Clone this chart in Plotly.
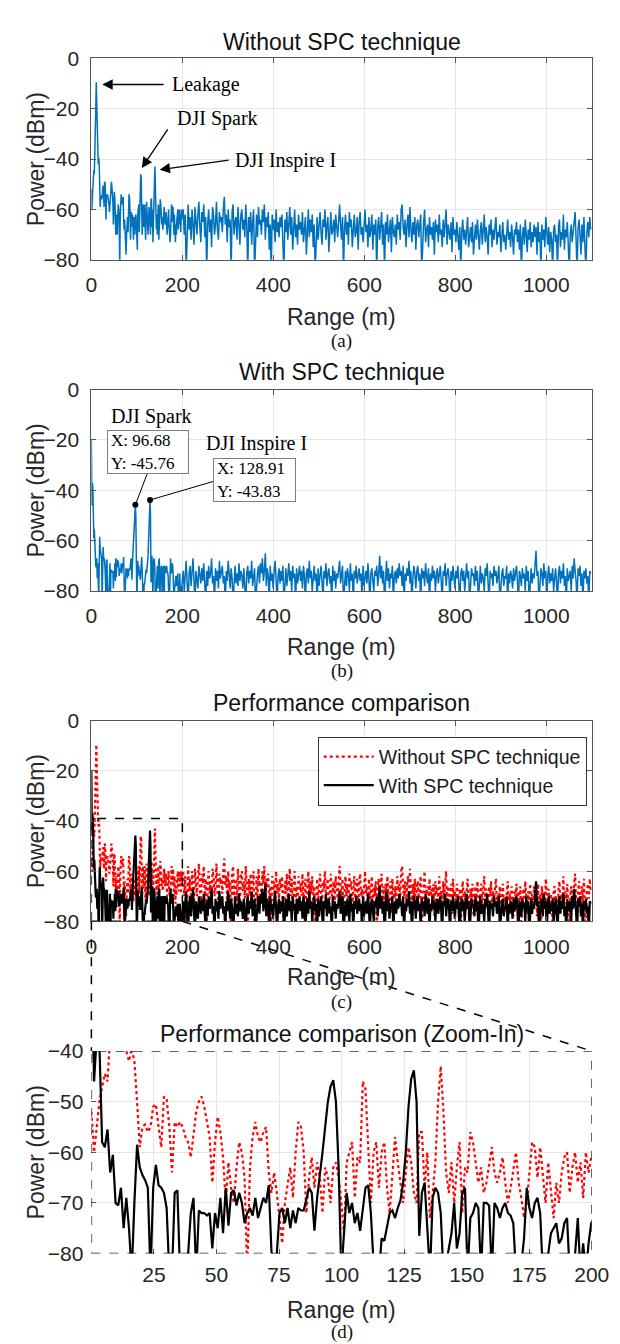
import plotly.graph_objects as go

# ---------------- data (dBm), FFT bin spacing in metres ----------------
BIN_M = 1.0742

# bins 0..186 (0 - 200 m), every bin
near_without = [
    -52, -60, -55, -50, -47, -44.5, -46, -40, -32, -20,
    -9.5, -18, -36, -40, -42, -39.5, -42, -50, -59, -55,
    -54.5, -56, -55, -51, -50.5, -55, -59, -49, -49.5, -55,
    -64, -54, -55, -54, -55, -57, -58, -61, -57, -52,
    -50, -49, -51, -54, -57, -66, -58, -53, -56, -61,
    -70, -62, -67, -70, -63, -58, -60, -65, -84, -63,
    -57, -54, -57, -58, -56, -55, -64, -68, -64, -68,
    -73, -78, -70, -66, -63, -69, -60, -54, -55, -60,
    -72, -65, -61, -67, -62, -65, -72, -63, -65, -70,
    -63, -62, -65, -70, -76, -62, -60, -58, -69, -61,
    -62, -46, -47.5, -60, -70, -60, -58, -67, -60, -58,
    -67, -72, -64, -57, -62, -66, -70, -64, -59, -62,
    -68, -70, -56, -56, -67, -60, -73, -68, -62, -50,
    -43, -52, -64, -68, -62, -70, -63, -58, -72, -63,
    -64, -56, -58, -62, -66, -63, -68, -66, -62, -59,
    -64, -66, -64, -61, -66, -70, -67, -63, -60, -66,
    -69, -73, -70, -64, -58, -59, -65, -59, -64, -70,
    -62, -67, -73, -66, -70, -64, -61, -60, -68, -63,
    -60, -66, -62, -69, -60, -64, -61,
]
near_with = [
    -20, -46, -37, -39, -58, -59, -55.5, -64, -60.5, -70,
    -70.5, -67, -75, -69, -75, -84, -70, -58.5, -63, -64.5,
    -65.5, -67, -84, -67, -62.5, -66.5, -67, -68, -71, -84,
    -84, -68, -67.5, -84, -86, -84, -80, -72, -69, -84,
    -71.5, -72, -72, -72.5, -72, -79, -72, -75, -69, -76,
    -67, -74.5, -68, -67.5, -70.5, -68, -70, -74, -72, -71,
    -72.5, -69, -73, -71, -69, -70, -66.5, -79.5, -84, -80,
    -72, -71, -74, -71, -75, -71.5, -74, -71, -71.5, -71.5,
    -69, -67, -68, -75.5, -69, -65, -60, -55, -50, -47,
    -45.76, -50, -63, -84, -76, -68, -72, -70, -74, -72,
    -75.5, -71, -67, -66.5, -72, -82, -86, -84, -77, -77.5,
    -75, -72, -71.5, -73, -71, -69.5, -66, -60, -51, -45.5,
    -43.83, -50, -76.5, -68, -66, -74, -84, -69, -67, -68,
    -72, -84, -82, -79, -76, -70, -79, -76, -68, -67,
    -84, -73, -72, -70, -71, -84, -70, -70, -70.5, -84,
    -70, -71, -73, -71, -70, -72, -72.5, -74, -84, -85,
    -82, -77, -67, -71, -73, -70, -69, -72, -84, -84,
    -80, -76, -75, -74, -78, -77, -74, -73, -84, -84,
    -80, -73, -84, -78, -84, -78, -74,
]

# bins 188, 190, ..., 1022 (200 - 1100 m), every second bin
far_without = [
    -60, -70, -62, -85, -65, -58, -68, -63, -72, -60, -66, -74, -59, -64, -70, -62, -57, -67, -73, -61,
    -65, -58, -71, -63, -85, -66, -60, -69, -64, -75, -59, -62, -70, -66, -57, -68, -72, -61, -65, -63,
    -69, -60, -55, -66, -62, -73, -60, -67, -64, -85, -61, -58, -70, -65, -63, -72, -59, -66, -74, -62,
    -60, -68, -64, -71, -58, -66, -85, -63, -69, -61, -74, -65, -60, -85, -67, -62, -71, -59, -66, -64,
    -70, -60, -65, -58, -72, -63, -67, -61, -76, -66, -85, -62, -68, -64, -73, -60, -69, -65, -71, -63,
    -67, -62, -74, -85, -64, -69, -61, -72, -66, -59, -70, -63, -76, -65, -60, -71, -66, -74, -62, -68,
    -65, -70, -61, -73, -67, -63, -78, -66, -60, -71, -64, -69, -62, -75, -66, -85, -68, -63, -72, -65,
    -61, -69, -74, -64, -67, -60, -72, -66, -63, -77, -65, -61, -70, -68, -64, -73, -62, -67, -71, -65,
    -58, -66, -72, -63, -85, -68, -62, -70, -65, -74, -61, -67, -64, -75, -66, -62, -71, -69, -63, -76,
    -65, -61, -70, -67, -73, -64, -60, -69, -66, -75, -63, -71, -68, -62, -76, -66, -70, -64, -85, -67,
    -63, -72, -68, -61, -74, -66, -85, -65, -70, -62, -73, -67, -64, -77, -63, -69, -71, -66, -74, -62,
    -68, -65, -72, -60, -58, -67, -70, -64, -75, -66, -62, -71, -59, -68, -73, -65, -70, -63, -76, -66,
    -64, -71, -67, -62, -85, -69, -65, -60, -73, -68, -66, -75, -63, -70, -67, -72, -65, -78, -64, -69,
    -66, -73, -62, -70, -68, -75, -64, -71, -67, -60, -74, -66, -69, -72, -65, -77, -63, -70, -68, -73,
    -65, -71, -76, -67, -85, -69, -64, -72, -68, -74, -66, -63, -75, -70, -67, -73, -65, -78, -69, -66,
    -72, -64, -70, -76, -68, -65, -74, -69, -62, -73, -67, -71, -78, -66, -70, -64, -75, -68, -72, -67,
    -63, -74, -69, -71, -66, -77, -68, -65, -73, -70, -76, -67, -64, -72, -69, -75, -66, -71, -78, -68,
    -70, -65, -73, -68, -76, -66, -85, -71, -67, -74, -64, -70, -77, -68, -72, -65, -75, -69, -73, -66,
    -71, -67, -78, -65, -73, -69, -85, -66, -72, -68, -75, -63, -70, -74, -67, -77, -69, -72, -85, -68,
    -66, -73, -70, -85, -67, -64, -75, -69, -72, -62, -76, -68, -71, -65, -74, -85, -70, -66, -73, -69,
    -62, -61, -72, -85, -68, -64, -70, -78, -66, -73, -63, -75, -85, -69, -65, -71, -63, -68,
]
far_with = [
    -72, -80, -75, -68, -77, -85, -73, -70, -78, -74, -67, -76, -85, -72, -75, -79, -70, -74, -77, -71,
    -76, -69, -74, -85, -72, -78, -70, -75, -73, -67, -77, -74, -85, -71, -76, -72, -79, -68, -75, -73,
    -70, -77, -74, -85, -72, -76, -68, -73, -79, -71, -75, -85, -74, -70, -77, -73, -78, -69, -76, -72,
    -74, -79, -71, -76, -85, -73, -70, -77, -72, -75, -68, -78, -74, -71, -85, -76, -73, -70, -77, -69,
    -73, -67, -76, -72, -65, -78, -71, -74, -85, -70, -76, -73, -79, -72, -68, -75, -85, -74, -71, -77,
    -72, -76, -70, -85, -74, -71, -78, -73, -69, -76, -72, -80, -70, -75, -73, -85, -71, -77, -74, -70,
    -76, -72, -79, -70, -74, -85, -73, -71, -77, -68, -75, -72, -80, -74, -70, -76, -73, -85, -71, -78,
    -74, -70, -76, -85, -72, -75, -69, -78, -73, -71, -77, -74, -85, -70, -76, -72, -79, -73, -75, -71,
    -68, -77, -73, -70, -85, -75, -72, -78, -71, -74, -80, -69, -76, -73, -85, -72, -75, -70, -77, -74,
    -71, -76, -73, -85, -70, -78, -74, -72, -77, -69, -75, -85, -73, -71, -76, -80, -72, -74, -70, -78,
    -73, -66, -75, -70, -77, -72, -85, -74, -68, -76, -71, -79, -73, -75, -70, -85, -74, -72, -77, -71,
    -75, -69, -74, -72, -78, -70, -85, -73, -76, -71, -74, -68, -77, -72, -85, -75, -70, -73, -79, -72,
    -70, -76, -73, -85, -71, -75, -72, -78, -69, -74, -77, -71, -85, -73, -76, -70, -75, -72, -80, -74,
    -71, -77, -73, -70, -76, -85, -72, -74, -69, -78, -73, -71, -75, -85, -72, -76, -70, -74, -79, -72,
    -75, -70, -77, -85, -73, -71, -76, -72, -80, -74, -69, -75, -72, -85, -77, -71, -74, -73, -78, -70,
    -76, -72, -85, -74, -70, -77, -73, -75, -80, -71, -74, -69, -76, -85, -72, -75, -73, -78, -70, -74,
    -72, -77, -74, -70, -85, -76, -73, -71, -78, -74, -75, -70, -85, -73, -77, -72, -74, -79, -71, -76,
    -73, -70, -76, -85, -72, -74, -78, -71, -75, -73, -80, -70, -76, -72, -85, -74, -71, -77, -73, -75,
    -70, -64, -74, -72, -85, -76, -71, -73, -78, -69, -75, -72, -85, -74, -70, -77, -73, -76, -71, -80,
    -74, -71, -76, -85, -73, -70, -77, -72, -75, -69, -78, -74, -85, -71, -76, -73, -72, -80, -70, -75,
    -67, -72, -76, -85, -71, -74, -70, -78, -73, -85, -72, -75, -71, -77, -74, -85, -72, -73,
]

spark_peak = (96.68, -45.76)
inspire_peak = (128.91, -43.83)

x_ticks_full = [0, 200, 400, 600, 800, 1000]
y_ticks_full = [-80, -60, -40, -20, 0]
x_ticks_zoom = [25, 50, 75, 100, 125, 150, 175, 200]
y_ticks_zoom = [-80, -70, -60, -50, -40]

range_without = [k * BIN_M for k in range(len(near_without))] + \
                [(188 + 2 * k) * BIN_M for k in range(len(far_without))]
range_with = [k * BIN_M for k in range(len(near_with))] + \
             [(188 + 2 * k) * BIN_M for k in range(len(far_with))]
power_without = near_without + far_without
power_with = near_with + far_with

# ---------------- layout geometry ----------------
W, H = 620, 1344
PL, PR = 80.5, 601.0
panels = [(39, 244), (376, 581), (713, 917), (1049, 1255)]
title_y = [22, 358, 695, 1032]
xlabel_y = [302, 638, 974, 1312]
sub_y = [327, 662, 999, 1335]
titles = ["Without SPC technique", "With SPC technique",
          "Performance comparison", "Performance comparison (Zoom-In)"]
subs = ["(a)", "(b)", "(c)", "(d)"]

SANS = "Arial, 'Liberation Sans', sans-serif"
SERIF = "'Times New Roman', 'Liberation Serif', serif"
BLUE = "#0072BD"


def px_x(px):
    return px / W


def px_y(py):
    return 1 - py / H


xdom = [px_x(PL), px_x(PR)]

fig = go.Figure()

# (a)
fig.add_trace(go.Scatter(x=range_without, y=power_without, mode="lines",
                         line=dict(color=BLUE, width=1.5), showlegend=False,
                         xaxis="x", yaxis="y"))
# (b)
fig.add_trace(go.Scatter(x=range_with, y=power_with, mode="lines",
                         line=dict(color=BLUE, width=1.5), showlegend=False,
                         xaxis="x2", yaxis="y2"))
fig.add_trace(go.Scatter(x=[spark_peak[0], inspire_peak[0]], y=[spark_peak[1], inspire_peak[1]],
                         mode="markers", marker=dict(color="black", size=6),
                         showlegend=False, xaxis="x2", yaxis="y2"))
# (c)
fig.add_trace(go.Scatter(x=range_without, y=power_without, mode="lines",
                         name="Without SPC technique",
                         line=dict(color="#ff0000", width=2.2, dash="dot"),
                         xaxis="x3", yaxis="y3"))
fig.add_trace(go.Scatter(x=range_with, y=power_with, mode="lines",
                         name="With SPC technique",
                         line=dict(color="black", width=2.2),
                         xaxis="x3", yaxis="y3"))
# (d)
fig.add_trace(go.Scatter(x=range_without, y=power_without, mode="lines",
                         line=dict(color="#ff0000", width=2.2, dash="dot"), showlegend=False,
                         xaxis="x4", yaxis="y4"))
fig.add_trace(go.Scatter(x=range_with, y=power_with, mode="lines",
                         line=dict(color="black", width=2.2), showlegend=False,
                         xaxis="x4", yaxis="y4"))

axis_common = dict(
    showgrid=True, gridcolor="#e6e6e6", gridwidth=1, zeroline=False,
    ticks="inside", ticklen=5, tickcolor="#555555",
    tickfont=dict(family=SANS, size=21, color="#262626"),
)

layout = dict(
    width=W, height=H, margin=dict(l=0, r=0, t=0, b=0),
    paper_bgcolor="white", plot_bgcolor="white",
    showlegend=True,
    legend=dict(x=px_x(316), y=px_y(729), xanchor="left", yanchor="top",
                bordercolor="#333333", borderwidth=1, bgcolor="white",
                font=dict(family=SANS, size=19.5, color="#1a1a1a"),
                itemwidth=50, tracegroupgap=0),
)

for i, (top, bot) in enumerate(panels):
    sx = "" if i == 0 else str(i + 1)
    ydom = [px_y(bot), px_y(top)]
    zoom = (i == 3)
    xa = dict(axis_common, domain=xdom, anchor="y" + sx,
              range=[0, 200] if zoom else [0, 1100],
              tickvals=x_ticks_zoom if zoom else x_ticks_full,
              ticklabelstandoff=6)
    ya = dict(axis_common, domain=ydom, anchor="x" + sx,
              range=[-80, -40] if zoom else [-80, 0],
              tickvals=y_ticks_zoom if zoom else y_ticks_full,
              ticklabelstandoff=7)
    if zoom:
        xa.update(showline=False)
        ya.update(showline=False)
    else:
        xa.update(showline=True, linecolor="#555555", linewidth=1, mirror="ticks")
        ya.update(showline=True, linecolor="#555555", linewidth=1, mirror="ticks")
    layout["xaxis" + sx] = xa
    layout["yaxis" + sx] = ya

fig.update_layout(**layout)

ann = []
for i, (top, bot) in enumerate(panels):
    ann.append(dict(text=titles[i], x=px_x((PL + PR) / 2), y=px_y(title_y[i]),
                    xref="paper", yref="paper", showarrow=False,
                    xanchor="center", yanchor="middle",
                    font=dict(family=SANS, size=23, color="#111111")))
    ann.append(dict(text="Range (m)", x=px_x((PL + PR) / 2), y=px_y(xlabel_y[i]),
                    xref="paper", yref="paper", showarrow=False,
                    xanchor="center", yanchor="middle",
                    font=dict(family=SANS, size=23, color="#262626")))
    ann.append(dict(text=subs[i], x=px_x((PL + PR) / 2), y=px_y(sub_y[i]),
                    xref="paper", yref="paper", showarrow=False,
                    xanchor="center", yanchor="middle",
                    font=dict(family=SERIF, size=19, color="#111111")))
    ann.append(dict(text="Power (dBm)", x=px_x(23), y=px_y((top + bot) / 2),
                    xref="paper", yref="paper", showarrow=False, textangle=-90,
                    xanchor="center", yanchor="middle",
                    font=dict(family=SANS, size=23, color="#262626")))

# (a) labels with arrows
tfont = dict(family=SERIF, size=20, color="black")
ann += [
    dict(text="Leakage", x=172, y=-10.4, xref="x", yref="y", showarrow=False,
         xanchor="left", yanchor="middle", font=tfont),
    dict(text="", x=24, y=-10.4, ax=162, ay=-10.4, xref="x", yref="y",
         axref="x", ayref="y", showarrow=True, arrowhead=2, arrowsize=1.6,
         arrowwidth=1.3, arrowcolor="black"),
    dict(text="DJI Spark", x=183, y=-24, xref="x", yref="y", showarrow=False,
         xanchor="left", yanchor="middle", font=tfont),
    dict(text="", x=111, y=-43.5, ax=170, ay=-27.6, xref="x", yref="y",
         axref="x", ayref="y", showarrow=True, arrowhead=2, arrowsize=1.6,
         arrowwidth=1.3, arrowcolor="black"),
    dict(text="DJI Inspire I", x=311, y=-40.6, xref="x", yref="y", showarrow=False,
         xanchor="left", yanchor="middle", font=tfont),
    dict(text="", x=150, y=-44.2, ax=305, ay=-40.3, xref="x", yref="y",
         axref="x", ayref="y", showarrow=True, arrowhead=2, arrowsize=1.6,
         arrowwidth=1.3, arrowcolor="black"),
]

# (b) data tips
bfont = dict(family=SERIF, size=17, color="black")
ann += [
    dict(text="DJI Spark", x=39.7, y=-10.5, xref="x2", yref="y2", showarrow=False,
         xanchor="left", yanchor="middle", font=tfont),
    dict(text="X: %.2f<br>Y: %.2f" % spark_peak, x=124.7, y=-24.7, xref="x2", yref="y2",
         showarrow=False, xanchor="center", yanchor="middle", align="left",
         bordercolor="#7f7f7f", borderwidth=1, borderpad=3, bgcolor="white",
         width=74, height=36, font=bfont),
    dict(text="DJI Inspire I", x=248, y=-21.5, xref="x2", yref="y2", showarrow=False,
         xanchor="left", yanchor="middle", font=tfont),
    dict(text="X: %.2f<br>Y: %.2f" % inspire_peak, x=359.7, y=-35.9, xref="x2", yref="y2",
         showarrow=False, xanchor="center", yanchor="middle", align="left",
         bordercolor="#7f7f7f", borderwidth=1, borderpad=3, bgcolor="white",
         width=75, height=36, font=bfont),
]
fig.update_layout(annotations=ann)

shapes = [
    dict(type="line", xref="x2", yref="y2", x0=spark_peak[0], y0=spark_peak[1],
         x1=123.6, y1=-33.05, line=dict(color="black", width=1)),
    dict(type="line", xref="x2", yref="y2", x0=inspire_peak[0], y0=inspire_peak[1],
         x1=271.5, y1=-36.3, line=dict(color="black", width=1)),
    # (c) zoom window
    dict(type="rect", xref="x3", yref="y3", x0=0, x1=200, y0=-80, y1=-39,
         line=dict(color="black", width=1.5, dash="dash")),
    # connectors
    dict(type="line", xref="paper", yref="paper", x0=px_x(PL), x1=px_x(PL),
         y0=px_y(panels[2][1]), y1=px_y(panels[3][0]),
         line=dict(color="black", width=1.5, dash="dash")),
    dict(type="line", xref="paper", yref="paper",
         x0=px_x(PL + 200 / 1100 * (PR - PL)), y0=px_y(panels[2][1]),
         x1=px_x(PR), y1=px_y(panels[3][0]),
         line=dict(color="black", width=1.5, dash="dash")),
    # (d) frame
    dict(type="rect", xref="x4", yref="y4", x0=0, x1=200, y0=-80, y1=-40,
         line=dict(color="#333333", width=1.5, dash="dash")),
]
fig.update_layout(shapes=shapes)

fig.write_html("out.html")
